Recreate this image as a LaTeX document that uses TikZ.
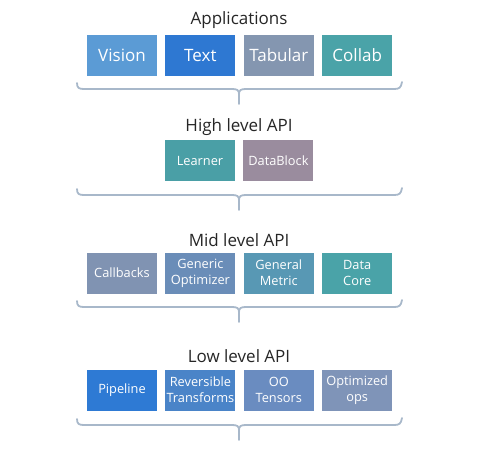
\documentclass[tikz,border=0pt]{standalone}
\usepackage{fontspec}
\setmainfont{Open Sans}
\usetikzlibrary{positioning}

\definecolor{cVision}{HTML}{5B9BD5}
\definecolor{cText}{HTML}{2E78D2}
\definecolor{cTabular}{HTML}{8496B0}
\definecolor{cCollab}{HTML}{4AA3A8}
\definecolor{cLearner}{HTML}{4A9FA6}
\definecolor{cDataBlock}{HTML}{9A8C9E}
\definecolor{cCallbacks}{HTML}{8093B2}
\definecolor{cOptim}{HTML}{6A8DB8}
\definecolor{cMetric}{HTML}{5898B4}
\definecolor{cCore}{HTML}{4AA3A8}
\definecolor{cPipeline}{HTML}{2E7AD4}
\definecolor{cReversible}{HTML}{4A84C8}
\definecolor{cTensors}{HTML}{6A8CC0}
\definecolor{cOps}{HTML}{7F94B8}
\definecolor{cBrace}{HTML}{A8B8CA}

\begin{document}
\begin{tikzpicture}[x=1pt, y=-1pt,
  box/.style={rectangle, minimum width=70pt, minimum height=41pt, inner sep=1pt, align=center, text=white, font=\fontsize{12.8}{16}\selectfont},
  bigbox/.style={box, font=\fontsize{17}{19}\selectfont},
  ttl/.style={font=\fontsize{17}{19}\selectfont, text=black!85},
  brc/.style={draw=cBrace, line width=1.8pt, line cap=round},
  node distance=8pt]
        \useasboundingbox (0,0) rectangle (488,450);
        % applications
        \node[ttl] (apps) at (239,20) {Applications};
        \node[bigbox, fill=cVision] (vision) at (122,55.5) {Vision};
        \node[bigbox, fill=cText, right=of vision] (text) {Text};
        \node[bigbox, fill=cTabular, right=of text] (tabular) {Tabular};
        \node[bigbox, fill=cCollab, right=of tabular] (collab) {Collab};
        % high level
        \node[ttl] (high) at (239,127) {High level API};
        \node[box, fill=cLearner] (learner) at (200,160.5) {Learner};
        \node[box, fill=cDataBlock, right=of learner] (datablock) {DataBlock};
        % mid level
        \node[ttl] (mid) at (239,240) {Mid level API};
        \node[box, fill=cCallbacks] (callbacks) at (122,273) {Callbacks};
        \node[box, fill=cOptim, right=of callbacks] (optim) {Generic\\Optimizer};
        \node[box, fill=cMetric, right=of optim] (metric) {General\\Metric};
        \node[box, fill=cCore, right=of metric] (core) {Data\\Core};
        % low level
        \node[ttl] (low) at (239,356) {Low level API};
        \node[box, fill=cPipeline] (pipeline) at (122,390) {Pipeline};
        \node[box, fill=cReversible, right=of pipeline] (reversible) {Reversible\\Transforms};
        \node[box, fill=cTensors, right=of reversible] (tensors) {OO\\Tensors};
        \node[box, fill=cOps, right=of tensors] (ops) {Optimized\\ops};
        % braces under each level
        \foreach \yb/\yt in {89/104, 195/210, 307/322, 425/440} {
          \draw[brc] (77,\yb-6) .. controls (77,\yb-1) and (79,\yb) .. (84,\yb) -- (232,\yb)
            .. controls (237,\yb) and (239,\yb+1) .. (239,\yb+5) -- (239,\yt);
          \draw[brc] (402,\yb-7) .. controls (401,\yb-1) and (399,\yb) .. (394,\yb) -- (246,\yb)
            .. controls (241,\yb) and (239,\yb+1) .. (239,\yb+5);
        }
      \end{tikzpicture}
\end{document}
